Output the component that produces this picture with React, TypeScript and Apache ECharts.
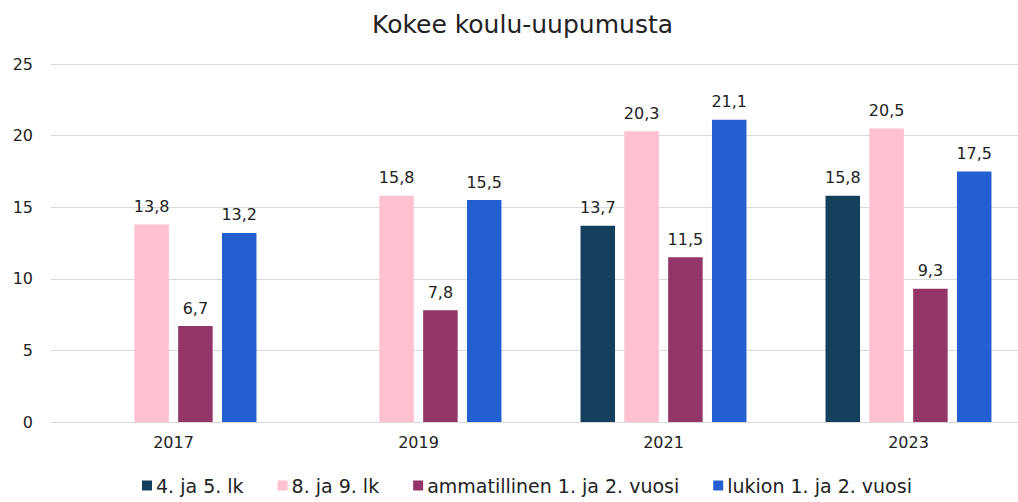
import React, { useEffect, useRef } from "react";
import * as echarts from "echarts";

const categories = ["2017", "2019", "2021", "2023"];
const seriesNames = ["4. ja 5. lk", "8. ja 9. lk", "ammatillinen 1. ja 2. vuosi", "lukion 1. ja 2. vuosi"];
const s45 = [null, null, 13.7, 15.8];
const s89 = [13.8, 15.8, 20.3, 20.5];
const sAmm = [6.7, 7.8, 11.5, 9.3];
const sLuk = [13.2, 15.5, 21.1, 17.5];
const colors = ["#14405E", "#FFC0CF", "#933566", "#245FD1"];

export default function App() {
  const ref = useRef<HTMLDivElement>(null);
  useEffect(() => {
    const chart = echarts.init(ref.current!, null, { renderer: "svg" });
    const data = [s45, s89, sAmm, sLuk];
    chart.setOption({
      animation: false,
      title: {
        text: "Kokee koulu-uupumusta",
        left: 367,
        top: 7,
        textStyle: { fontFamily: "DejaVu Sans", fontSize: 25, fontWeight: "normal", color: "#222" },
      },
      grid: { left: 51, width: 980, top: 64, height: 358, outerBoundsMode: "none", containLabel: false },
      legend: {
        bottom: 2,
        left: 137,
        itemWidth: 10,
        itemHeight: 10,
        itemGap: 34,
        icon: "rect",
        textStyle: { fontFamily: "DejaVu Sans", fontSize: 19, color: "#222", padding: [0, 0, 0, -1] },
        data: seriesNames,
      },
      xAxis: {
        type: "category",
        data: categories,
        axisLine: { lineStyle: { color: "#d9d9d9" } },
        axisTick: { show: false },
        axisLabel: { fontFamily: "DejaVu Sans", fontSize: 16, color: "#222", margin: 12 },
      },
      yAxis: {
        type: "value",
        min: 0,
        max: 25,
        interval: 5,
        axisLabel: { fontFamily: "DejaVu Sans", fontSize: 16, color: "#222", margin: 18 },
        splitLine: { lineStyle: { color: "#d9d9d9" } },
      },
      series: data.map((d, i) => ({
        name: seriesNames[i],
        type: "bar",
        data: d.map((v) => (v === null ? "-" : v)),
        barWidth: 34.5,
        barGap: "27%",
        itemStyle: { color: colors[i] },
        label: {
          show: true,
          position: "top",
          distance: 10,
          fontFamily: "DejaVu Sans",
          fontSize: 16,
          color: "#222",
          formatter: (p: any) => String(p.value).replace(".", ","),
        },
      })),
    });
    return () => chart.dispose();
  }, []);
  return <div ref={ref} style={{ width: 1018, height: 502, position: "absolute", left: 0, top: 0 }} />;
}
